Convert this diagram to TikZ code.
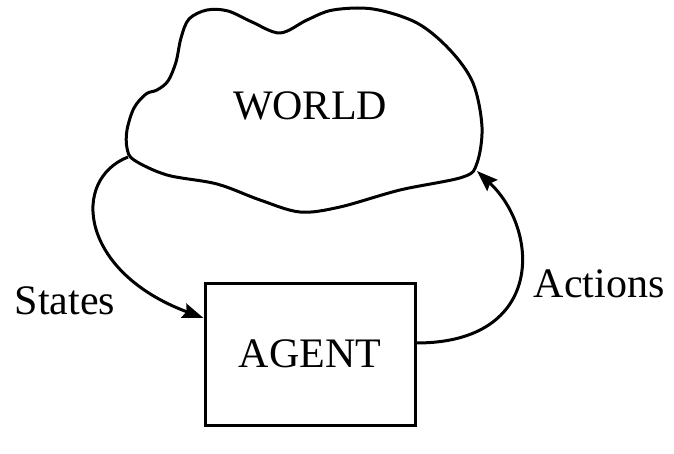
\documentclass[tikz,border=0pt]{standalone}
\usepackage{fontspec}
\setmainfont{Liberation Serif}
\usetikzlibrary{arrows.meta}
\begin{document}
\begin{tikzpicture}[x=1pt,y=-1pt,
  stroke/.style={line width=3pt,black},
  label/.style={font=\fontsize{42}{48}\selectfont,inner sep=0pt},
  flow/.style={stroke,-{Stealth[length=21pt,width=15pt,inset=3pt]}}]
\useasboundingbox (0,0) rectangle (674,454);

% the world, drawn as a cloud
\draw[stroke,line join=round] plot[smooth cycle,tension=0.55] coordinates {
  (207,10) (189,19) (181,38) (176,62) (168,81) (157,90) (146,94) (134,108)
  (127,130) (127,148) (134,160)
  (167,175) (217,184) (260,200) (300,212) (340,207) (400,190) (463,177)
  (477,163) (482,127) (473,83) (450,50) (417,23) (373,9) (333,10) (307,20)
  (280,33) (252,22) (228,11)};
\node[label] (world) at (310,106) {WORLD};
\coordinate (wl) at (128,157);
\coordinate (wr) at (477,171);

% the agent
\node[stroke,draw,minimum width=210pt,minimum height=142pt,inner sep=0pt] (agent) at (310,354) {};
\node[label] (agenttext) at (agent.center) {AGENT};

% states and actions
\draw[flow] (wl) .. controls (70,180) and (80,272) .. (agent.north west |- 0,318);
\draw[flow] (agent.east |- 0,343) .. controls (545,343) and (540,230) .. (wr);

\node[label] (states) at (65,301) {States};
\node[label] (actions) at (599,284) {Actions};
\end{tikzpicture}
\end{document}
